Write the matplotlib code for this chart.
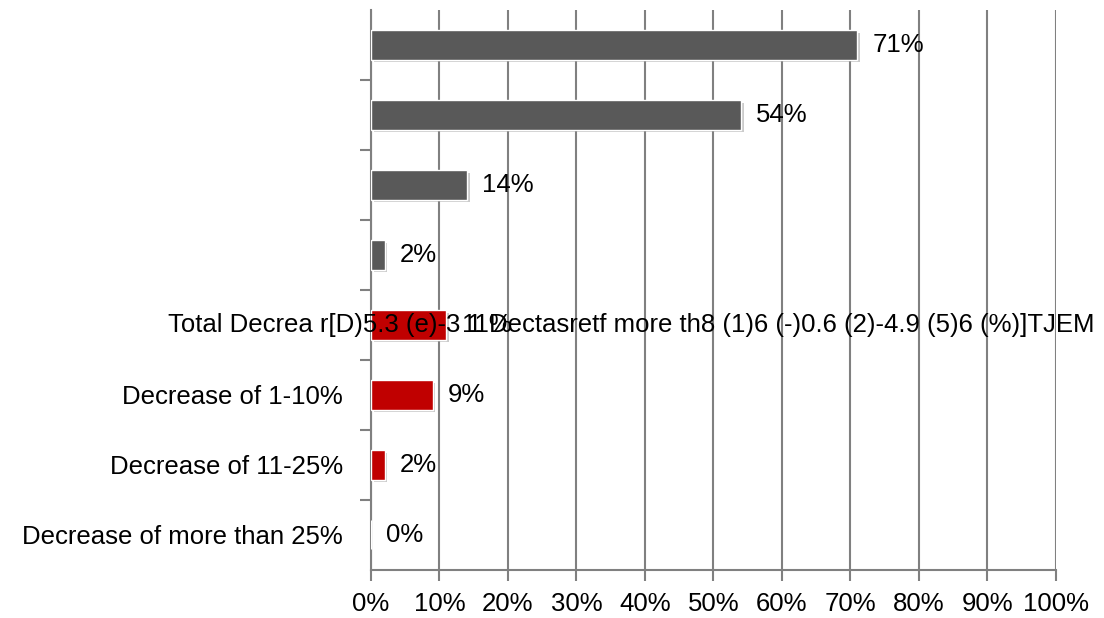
import matplotlib
matplotlib.use("Agg")
import matplotlib.pyplot as plt
import matplotlib.patheffects as pe
from matplotlib.ticker import FuncFormatter

# rows listed top to bottom
labels = ["", "", "", "", "", "Decrease of 1-10%", "Decrease of 11-25%", "Decrease of more than 25%"]
values = [71, 54, 14, 2, 11, 9, 2, 0]
colors = ["#595959"] * 4 + ["#C00000"] * 4
garbled = "Total Decrea r[D)5.3 (e)-3 1 Dectasretf more th8 (1)6 (-)0.6 (2)-4.9 (5)6 (%)]TJEM"

plt.rcParams['font.family'] = ['Liberation Sans', 'DejaVu Sans']
plt.rcParams['font.size'] = 18.5

fig = plt.figure(figsize=(11.04, 6.18), dpi=100)
ax = fig.add_axes([0.336, 0.078, 0.6205, 0.906])

ypos = list(range(len(values)))[::-1]
shadow = [pe.SimplePatchShadow(offset=(2, -2), shadow_rgbFace="#8c8c8c", alpha=0.45), pe.Normal()]
bars = ax.barh(ypos, values, height=0.42, color=colors, edgecolor="white", linewidth=1, zorder=3)
for b in bars:
    b.set_path_effects(shadow)

for y, v in zip(ypos, values):
    ax.annotate(f"{v}%", (v, y), xytext=(11, 0), textcoords="offset points",
                va="center", ha="left", color="black", zorder=5)

ax.set_xlim(0, 100)
ax.set_ylim(-0.5, len(values) - 0.5)
ax.set_xticks(range(0, 101, 10))
ax.xaxis.set_major_formatter(FuncFormatter(lambda x, p: f"{int(x)}%"))
ax.set_yticks(ypos)
ax.set_yticklabels(labels)
ax.set_yticks([i + 0.5 for i in range(len(values) - 1)], minor=True)
ax.tick_params(axis="y", which="major", length=0, pad=20)
ax.tick_params(axis="y", which="minor", length=8, color="#808080", width=1.5)
ax.tick_params(axis="x", length=8, color="#808080", width=1.5, pad=8)

ax.grid(axis="x", color="#808080", linewidth=1.5, zorder=0)
ax.set_axisbelow(True)
for s in ["top", "right"]:
    ax.spines[s].set_visible(False)
for s in ["left", "bottom"]:
    ax.spines[s].set_color("#808080")
    ax.spines[s].set_linewidth(1.5)

# broken category label that runs across the plot
ax.text(-0.296, ypos[4], garbled, transform=ax.get_yaxis_transform(), ha="left", va="center",
        color="black", zorder=6, clip_on=False)

fig.savefig("out.png", dpi=100)
